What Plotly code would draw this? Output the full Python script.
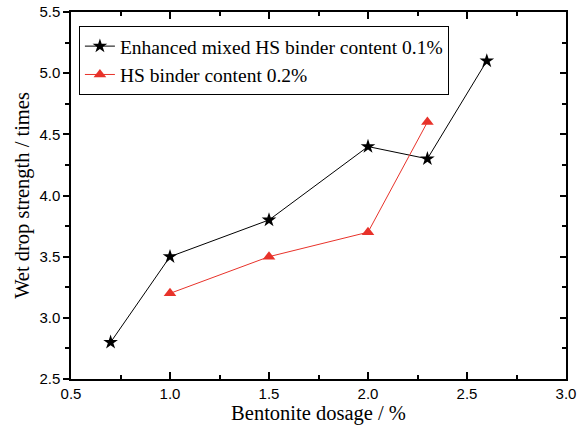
import plotly.graph_objects as go

x_black = [0.7, 1.0, 1.5, 2.0, 2.3, 2.6]
y_black = [2.8, 3.5, 3.8, 4.4, 4.3, 5.1]
x_red = [1.0, 1.5, 2.0, 2.3]
y_red = [3.2, 3.5, 3.7, 4.6]
name_black = "Enhanced mixed HS binder content 0.1%"
name_red = "HS binder content 0.2%"
x_ticks = [0.5, 1.0, 1.5, 2.0, 2.5, 3.0]
y_ticks = [2.5, 3.0, 3.5, 4.0, 4.5, 5.0, 5.5]

fig = go.Figure()
fig.add_trace(go.Scatter(x=x_black, y=y_black, mode="lines+markers", name=name_black,
                         line=dict(color="black", width=1),
                         marker=dict(symbol="star", size=11, color="black")))
fig.add_trace(go.Scatter(x=x_red, y=y_red, mode="lines+markers", name=name_red,
                         line=dict(color="#e8322a", width=1),
                         marker=dict(symbol="triangle-up", size=11, color="#e8322a")))
# dummy trace for right axis
fig.add_trace(go.Scatter(x=[None], y=[None], yaxis="y2", showlegend=False, hoverinfo="skip"))

tickfont = dict(family="Liberation Sans, Arial", size=15, color="black")
titlefont = dict(family="Liberation Serif, Times New Roman", size=20.5, color="black")
fig.update_layout(
    width=579, height=433,
    margin=dict(l=71, r=13, t=12, b=54),
    paper_bgcolor="white", plot_bgcolor="white",
    xaxis=dict(range=[0.5, 3.0], tickvals=x_ticks, ticktext=[f"{v:.1f}" for v in x_ticks],
               ticks="inside", ticklen=7, tickwidth=1.5, tickcolor="black",
               showline=True, linecolor="black", linewidth=1.5, mirror="ticks",
               showgrid=False, zeroline=False, tickfont=tickfont, automargin=False,
               minor=dict(dtick=0.25, tick0=0.5, ticks="inside", ticklen=4, tickcolor="black", showgrid=False),
               title=dict(text="Bentonite dosage / %", font=titlefont, standoff=4)),
    yaxis=dict(range=[2.5, 5.5], tickvals=y_ticks, ticktext=[f"{v:.1f}" for v in y_ticks],
               ticks="outside", ticklen=6, tickwidth=1.5, tickcolor="black",
               showline=True, linecolor="black", linewidth=1.5,
               showgrid=False, zeroline=False, tickfont=tickfont, automargin=False,
               minor=dict(dtick=0.25, tick0=2.5, ticks="outside", ticklen=4, tickcolor="black", showgrid=False),
               title=dict(text="Wet drop strength / times", font=titlefont, standoff=4)),
    yaxis2=dict(range=[2.5, 5.5], overlaying="y", side="right", tickvals=y_ticks,
                showticklabels=False, ticks="inside", ticklen=6, tickwidth=1.5, tickcolor="black",
                showline=True, linecolor="black", linewidth=1.5, showgrid=False, zeroline=False,
                automargin=False,
                minor=dict(dtick=0.25, tick0=2.5, ticks="inside", ticklen=4, tickcolor="black", showgrid=False)),
    legend=dict(x=0.016, y=0.962, xanchor="left", yanchor="top",
                bordercolor="black", borderwidth=1, bgcolor="white",
                font=dict(family="Liberation Serif, Times New Roman", size=19.5, color="black"),
                tracegroupgap=0),
    showlegend=True,
)
fig.write_html("out.html", config={"displayModeBar": False},
               post_script="document.body.style.margin='0';")
